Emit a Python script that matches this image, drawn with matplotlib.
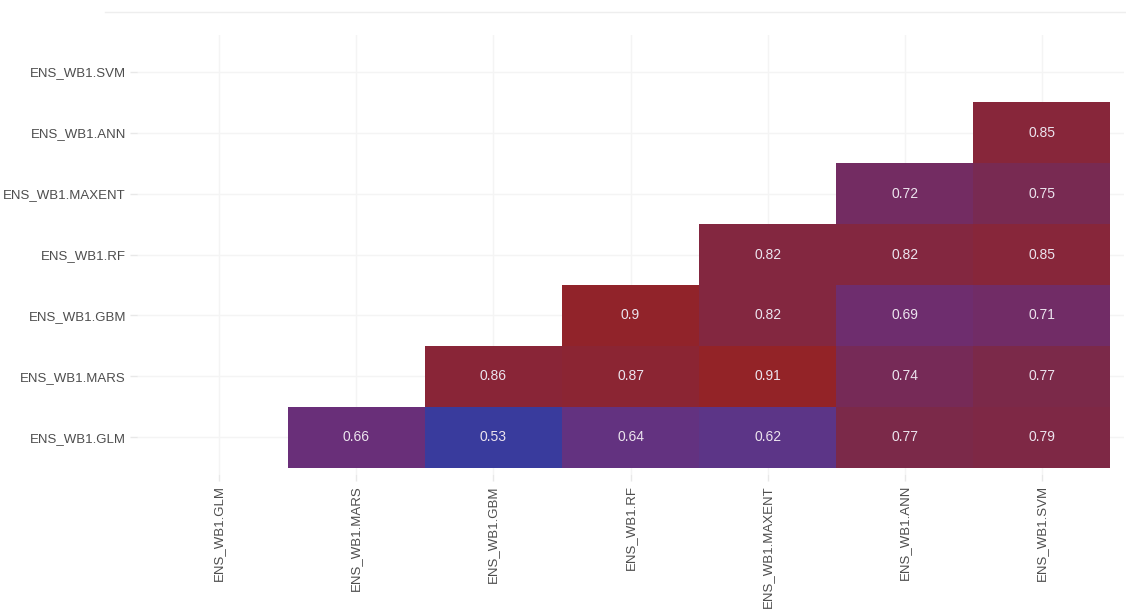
import numpy as np
import matplotlib
matplotlib.use("Agg")
from matplotlib import pyplot as plt
from matplotlib.colors import LinearSegmentedColormap, Normalize

# model names, bottom row / left column first
models = ["ENS_WB1.GLM", "ENS_WB1.MARS", "ENS_WB1.GBM", "ENS_WB1.RF",
          "ENS_WB1.MAXENT", "ENS_WB1.ANN", "ENS_WB1.SVM"]

# correlation values per row (row model vs. the models to its right)
row_glm = [0.66, 0.53, 0.64, 0.62, 0.77, 0.79]
row_mars = [0.86, 0.87, 0.91, 0.74, 0.77]
row_gbm = [0.9, 0.82, 0.69, 0.71]
row_rf = [0.82, 0.82, 0.85]
row_maxent = [0.72, 0.75]
row_ann = [0.85]
rows = [row_glm, row_mars, row_gbm, row_rf, row_maxent, row_ann, []]

n = len(models)
mat = np.full((n, n), np.nan)
for i, vals in enumerate(rows):
    for k, v in enumerate(vals):
        mat[i, i + 1 + k] = v
masked = np.ma.masked_invalid(mat)

# blue -> purple -> red
anchors = [(0.53, "#393b9d"), (0.62, "#5c3587"), (0.66, "#692f79"),
           (0.71, "#712c66"), (0.77, "#7b2949"), (0.85, "#87263a"),
           (0.91, "#932327")]
lo, hi = anchors[0][0], anchors[-1][0]
cmap = LinearSegmentedColormap.from_list(
    "corr", [((v - lo) / (hi - lo), c) for v, c in anchors])
norm = Normalize(lo, hi)

plt.rcParams['font.family'] = ['Liberation Sans', 'DejaVu Sans']

fig = plt.figure(figsize=(11.26, 6.11), dpi=100)
ax = fig.add_axes([0.1217, 0.2242, 0.8765, 0.7185])

# very faint panel grid under the tiles
grid_c = "#f4f4f4"
for i in range(n):
    ax.axhline(i, color=grid_c, lw=1, zorder=0)
    ax.axvline(i, color=grid_c, lw=1, zorder=0)

edges = np.arange(n + 1) - 0.5
ax.pcolormesh(edges, edges, masked, cmap=cmap, norm=norm, zorder=1)

for i in range(n):
    for j in range(n):
        if not np.isnan(mat[i, j]):
            ax.text(j, i, f"{mat[i, j]:g}", ha="center", va="center",
                    color="#ece4ee", fontsize=10, zorder=2)

ax.set_xlim(-0.6, n - 0.4)
ax.set_ylim(-0.6, n - 0.4)
ax.set_xticks(range(n))
ax.set_yticks(range(n))
ax.set_xticklabels(models, rotation=90)
ax.set_yticklabels(models)
ax.tick_params(axis="both", colors="#e8e8e8", labelcolor="#4d4d4d",
               labelsize=9.5, length=5, width=1, pad=3)
for s in ax.spines.values():
    s.set_visible(False)

# faint line near the top edge
fig.add_artist(plt.Line2D([0.093, 1.0], [0.98, 0.98], color="#eeeeee", lw=1))

fig.savefig("out.png", dpi=100)
